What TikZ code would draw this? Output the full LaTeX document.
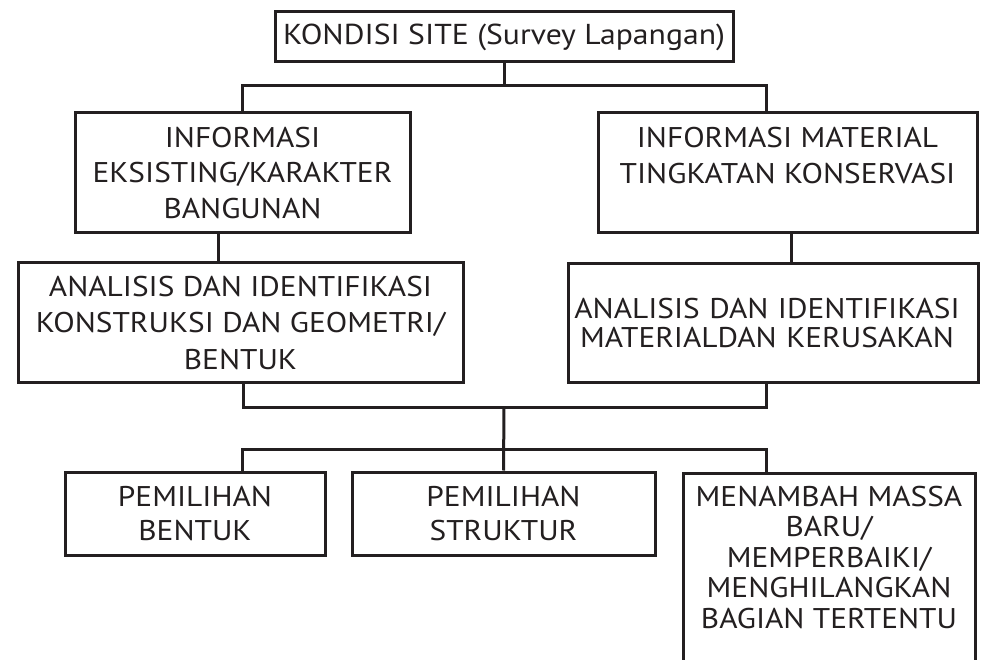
\documentclass[tikz,border=0pt]{standalone}
\usepackage{fontspec}
\setmainfont{PT Sans}[FakeStretch=1.1]
\usetikzlibrary{calc}
\definecolor{ink}{HTML}{231F20}
\begin{document}
\begin{tikzpicture}[x=1pt,y=-1pt,
  boxstyle/.style={draw=ink, line width=3pt, align=center, inner sep=0pt, text=ink,
    font=\fontsize{28.5}{35.5}\selectfont},
  textonly/.style={align=center, inner sep=0pt, text=ink, font=\fontsize{28.5}{30.5}\selectfont},
  wire/.style={draw=ink, line width=3pt}]
\useasboundingbox[fill=white] (0,0) rectangle (983,660);

% boxes
\node[boxstyle, minimum width=458pt, minimum height=50pt, font=\fontsize{28.8}{36}\selectfont] (top) at (504,37) {KONDISI SITE (Survey Lapangan)};
\node[boxstyle, minimum width=335pt, minimum height=120pt] (info1) at (242.5,173) {INFORMASI\\EKSISTING/KARAKTER\\BANGUNAN};
\node[boxstyle, minimum width=379pt, minimum height=120pt] (info2) at (787.5,173) {INFORMASI MATERIAL\\TINGKATAN KONSERVASI\\\vphantom{B}};
\node[boxstyle, minimum width=445pt, minimum height=120pt, font=\fontsize{28.5}{36.5}\selectfont] (ana1) at (240.5,323) {ANALISIS DAN IDENTIFIKASI\\KONSTRUKSI DAN GEOMETRI/\\BENTUK};
\node[boxstyle, minimum width=410pt, minimum height=119pt, font=\fontsize{28.5}{29}\selectfont, text width=410pt] (ana2) at (773,323.5) {\hspace*{-12pt}ANALISIS DAN IDENTIFIKASI\\\hspace*{-12pt}MATERIALDAN KERUSAKAN};
\node[boxstyle, minimum width=260pt, minimum height=83pt, font=\fontsize{28.5}{34}\selectfont] (p1) at (195,513.5) {PEMILIHAN\\BENTUK};
\node[boxstyle, minimum width=303pt, minimum height=83pt, font=\fontsize{28.5}{34}\selectfont] (p2) at (503.5,513.5) {PEMILIHAN\\STRUKTUR};
\node[draw=ink, line width=3pt, minimum width=292pt, minimum height=260pt, anchor=north, inner sep=0pt] (p3frame) at (829,472) {};
\node[textonly] (p3) at (829,557.5) {MENAMBAH MASSA\\BARU/\\MEMPERBAIKI/\\MENGHILANGKAN\\BAGIAN TERTENTU};

% junction coordinates
\coordinate (j1) at (504,86);
\coordinate (j2) at (504,407);
\coordinate (j3) at (504,449);
\coordinate (xa) at (766,0);
\coordinate (xb) at (218,0);
\coordinate (xc) at (791,0);
\coordinate (xd) at (243,0);
\coordinate (xe) at (242,0);

% connectors
\draw[wire] (top.south) -- (j1);
\draw[wire] (info1.north) |- (j1) -| (info2.north -| xa);
\draw[wire] (info1.south -| xb) -- (ana1.north -| xb);
\draw[wire] (info2.south -| xc) -- (ana2.north -| xc);
\draw[wire] (ana1.south -| xd) |- (j2) -| (ana2.south -| xa);
\draw[wire] (j2) -- (p2.north);
\draw[wire] (p1.north -| xe) |- (j3) -| (p3frame.north -| xa);
\end{tikzpicture}
\end{document}
